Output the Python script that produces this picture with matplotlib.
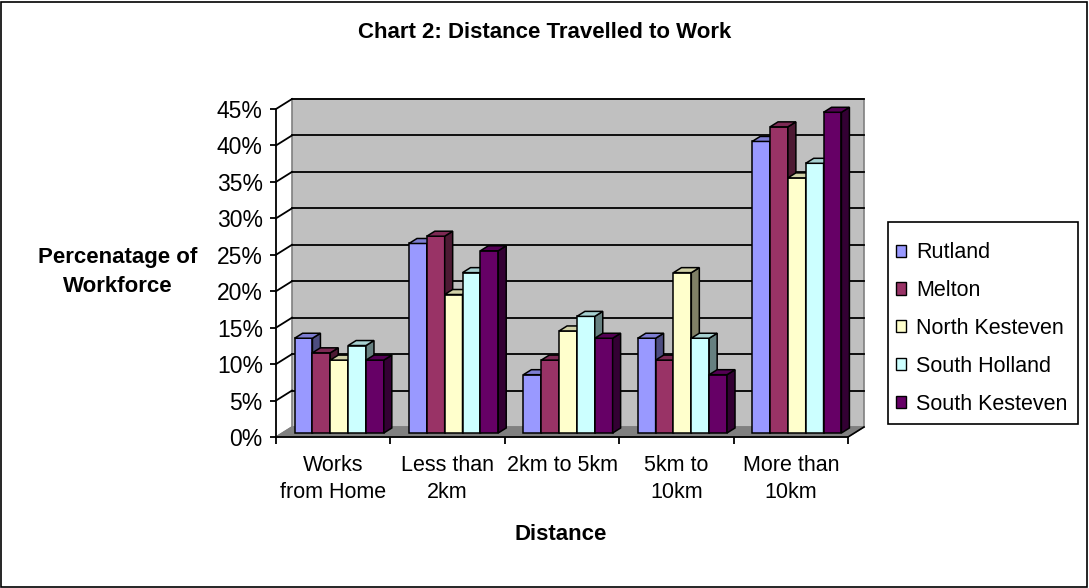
import numpy as np
import matplotlib
matplotlib.use('Agg')
import matplotlib.pyplot as plt
import matplotlib.ticker as mtick
from matplotlib.colors import to_rgb
from matplotlib.patches import Polygon, Rectangle
from matplotlib.lines import Line2D
from matplotlib.transforms import IdentityTransform

categories = ['Works\nfrom Home', 'Less than\n2km', '2km to 5km', '5km to\n10km', 'More than\n10km']
series_names = ['Rutland', 'Melton', 'North Kesteven', 'South Holland', 'South Kesteven']
rutland = [13, 26, 8, 13, 40]
melton = [11, 27, 10, 10, 42]
north_kesteven = [10, 19, 14, 22, 35]
south_holland = [12, 22, 16, 13, 37]
south_kesteven = [10, 25, 13, 8, 44]
series_vals = [rutland, melton, north_kesteven, south_holland, south_kesteven]
colors = ['#9999FF', '#993366', '#FFFFCC', '#CCFFFF', '#660066']
y_ticks = list(range(0, 50, 5))

plt.rcParams['font.family'] = ['Liberation Sans', 'DejaVu Sans']

W, H = 1089, 588
fig = plt.figure(figsize=(W / 100, H / 100), dpi=100)
ax = fig.add_axes([276 / W, (H - 437) / H, 572 / W, 328 / H])
ax.set_xlim(-0.5, 4.5)
ax.set_ylim(0, 45)
ax.patch.set_visible(False)

ID = IdentityTransform()
wall_d = np.array([16, 10])   # depth of the back wall, pixels
bar_s = np.array([6, 4])      # bars sit a bit behind the front plane
bar_d = np.array([8, 5])      # depth of each bar


def px(x, y):
    return np.array(ax.transData.transform((x, y)))


def shade(c, f):
    r, g, b = to_rgb(c)
    return (r * f, g * f, b * f)


# back wall and floor
x0, x1 = ax.get_xlim()
w0 = px(x0, 0) + wall_d
w1 = px(x1, 45) + wall_d
ax.add_patch(Rectangle(w0, w1[0] - w0[0], w1[1] - w0[1], transform=ID,
                       facecolor='#C0C0C0', edgecolor='#808080', lw=1.2,
                       clip_on=False, zorder=0.1))
f0, f1 = px(x0, 0), px(x1, 0)
ax.add_patch(Polygon([f0, f1, f1 + wall_d, f0 + wall_d], closed=True, transform=ID,
                     facecolor='#808080', edgecolor='#808080', lw=1,
                     clip_on=False, zorder=0.2))
ax.add_line(Line2D([f1[0], f1[0] + wall_d[0]], [f1[1], f1[1] + wall_d[1]],
                   transform=ID, color='black', lw=1.2, clip_on=False, zorder=0.3))

for v in y_ticks[1:]:
    a = px(x0, v)
    b = px(x1, v)
    ax.add_line(Line2D([a[0] + wall_d[0], b[0] + wall_d[0]], [a[1] + wall_d[1], b[1] + wall_d[1]],
                       transform=ID, color='black', lw=1.3, clip_on=False, zorder=0.3))
    ax.add_line(Line2D([a[0], a[0] + wall_d[0]], [a[1], a[1] + wall_d[1]],
                       transform=ID, color='black', lw=1.3, clip_on=False, zorder=0.3))
ax.add_line(Line2D([f0[0], f0[0] + wall_d[0]], [f0[1], f0[1] + wall_d[1]],
                   transform=ID, color='#808080', lw=1.2, clip_on=False, zorder=0.3))

# bars
bw = 0.156
xs = np.arange(len(categories))
handles = []
for i, (vals, c) in enumerate(zip(series_vals, colors)):
    pos = xs + (i - 2) * bw
    for k, (xp, v) in enumerate(zip(pos, vals)):
        z = 2 + k + i * 0.1
        bl = px(xp - bw / 2, 0) + bar_s
        tr = px(xp + bw / 2, v) + bar_s
        br = np.array([tr[0], bl[1]])
        tl = np.array([bl[0], tr[1]])
        ax.add_patch(Polygon([bl, br, tr, tl], closed=True, transform=ID, facecolor=c,
                             edgecolor='black', lw=1.1, clip_on=False, zorder=z))
        ax.add_patch(Polygon([br, tr, tr + bar_d, br + bar_d], closed=True, transform=ID,
                             facecolor=shade(c, 0.5), edgecolor='black', lw=1.1,
                             clip_on=False, zorder=z + 0.01))
        ax.add_patch(Polygon([tl, tr, tr + bar_d, tl + bar_d], closed=True, transform=ID,
                             facecolor=shade(c, 0.82), edgecolor='black', lw=1.1,
                             clip_on=False, zorder=z + 0.02))
    handles.append(Rectangle((0, 0), 1, 1, facecolor=c, edgecolor='black', lw=1))

# axes
for s in ['top', 'right']:
    ax.spines[s].set_visible(False)
for s in ['left', 'bottom']:
    ax.spines[s].set_linewidth(1.3)
    ax.spines[s].set_zorder(1)
ax.set_yticks(y_ticks)
ax.yaxis.set_major_formatter(mtick.PercentFormatter(decimals=0))
ax.tick_params(axis='y', length=4.5, width=1.3, pad=5, labelsize=16.5)
ax.set_xticks(xs)
ax.set_xticklabels(categories, linespacing=1.4)
ax.set_xticks(np.arange(-0.5, 5, 1), minor=True)
ax.tick_params(axis='x', which='major', length=0, pad=13, labelsize=15.5)
ax.tick_params(axis='x', which='minor', length=5, width=1.3)

fig.text(545 / W, 1 - 32 / H, 'Chart 2: Distance Travelled to Work', ha='center', va='center',
         fontsize=16, fontweight='bold')
fig.text(118 / W, 1 - 272 / H, 'Percenatage of\nWorkforce', ha='center', va='center',
         fontsize=16, fontweight='bold', linespacing=1.55)
fig.text(561 / W, 1 - 535 / H, 'Distance', ha='center', va='center',
         fontsize=16, fontweight='bold')

# legend: entries placed without frame, box drawn on its own
leg = fig.legend(handles, series_names, loc='center left', bbox_to_anchor=(886 / W, 1 - 328.5 / H),
                 fontsize=15.5, frameon=False,
                 handlelength=0.5, handleheight=0.5, handletextpad=0.45, labelspacing=0.78,
                 borderpad=0.45, borderaxespad=0)
fig.patches.append(Rectangle((888 / W, 1 - 424 / H), 190 / W, 202 / H, transform=fig.transFigure,
                             facecolor='white', edgecolor='black', lw=1.2, zorder=0.5))

fig.patches.append(Rectangle((1 / W, 1.5 / H), (W - 3) / W, (H - 3) / H, transform=fig.transFigure,
                             fill=False, edgecolor='black', lw=1.2))

fig.savefig('out.png', dpi=100)
